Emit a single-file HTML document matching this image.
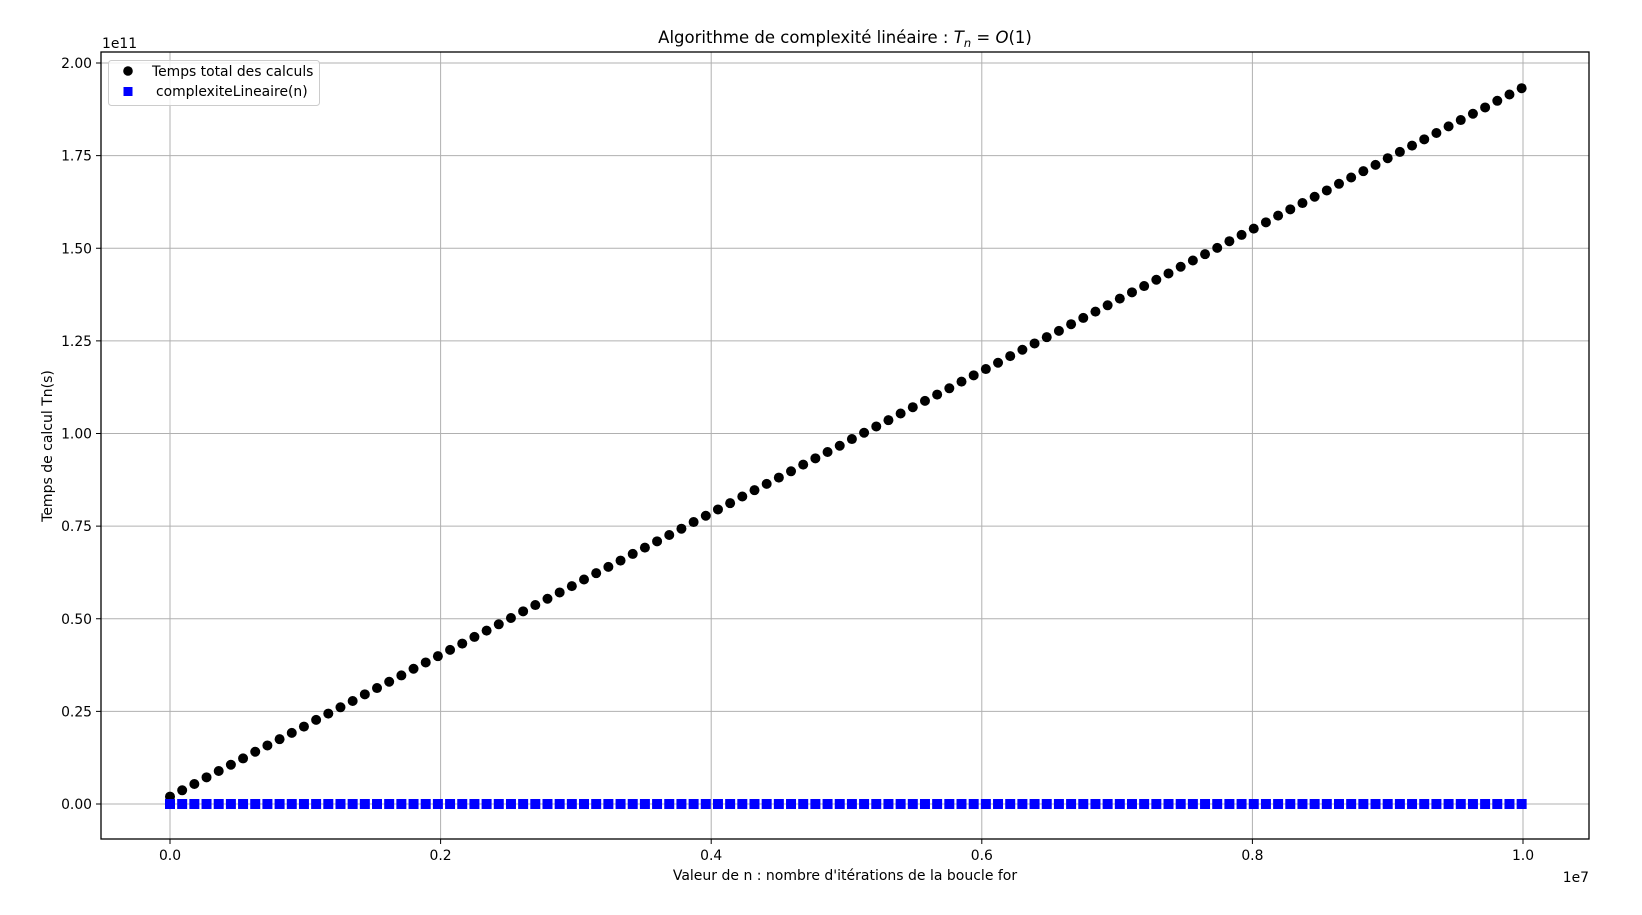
<!DOCTYPE html>
<html><head><meta charset="utf-8"><style>
body{margin:0;background:#fff;}
svg text{font-family:"DejaVu Sans","Liberation Sans",sans-serif;fill:#000;}
</style></head><body>
<svg id="chart" width="1642" height="910" xmlns="http://www.w3.org/2000/svg">
<rect width="1642" height="910" fill="#fff"/>
<g id="grid"></g>
<g id="marks"></g>
<rect x="101" y="52" width="1488" height="787" fill="none" stroke="#000" stroke-width="1.3"/>
<g id="ticks"></g>
<text x="845" y="43" font-size="16.5" text-anchor="middle">Algorithme de complexité linéaire : <tspan font-style="italic">T</tspan><tspan font-style="italic" font-size="11.5" dy="4">n</tspan><tspan dy="-4"> = </tspan><tspan font-style="italic">O</tspan>(1)</text>
<text x="845" y="880" font-size="14" text-anchor="middle">Valeur de n : nombre d'itérations de la boucle for</text>
<text x="0" y="0" font-size="14" text-anchor="middle" transform="translate(52,446) rotate(-90)">Temps de calcul Tn(s)</text>
<text x="1589" y="882" font-size="13.9" text-anchor="end">1e7</text>
<text x="102" y="48" font-size="13.9">1e11</text>
<g>
<rect x="108.5" y="60.5" width="211" height="45" rx="3" fill="#fff" fill-opacity="0.8" stroke="#ccc"/>
<circle cx="128" cy="71" r="4.8" fill="#000"/>
<text x="152" y="76" font-size="13.9">Temps total des calculs</text>
<rect x="123.5" y="87" width="9" height="9" fill="#00f"/>
<text x="156" y="96" font-size="13.9">complexiteLineaire(n)</text>
</g>
</svg>
<script>
// n values in units of 1e4
const nValues = [0,9,18,27,36,45,54,63,72,81,90,99,108,117,126,135,144,153,162,171,180,189,198,207,216,225,234,243,252,261,270,279,288,297,306,315,324,333,342,351,360,369,378,387,396,405,414,423,432,441,450,459,468,477,486,495,504,513,522,531,540,549,558,567,576,585,594,603,612,621,630,639,648,657,666,675,684,693,702,711,720,729,738,747,756,765,774,783,792,801,810,819,828,837,846,855,864,873,882,891,900,909,918,927,936,945,954,963,972,981,990,999];
// total time in units of 1e11
const tempsTotal = [0.020,0.037,0.054,0.072,0.089,0.106,0.123,0.141,0.158,0.175,0.192,0.209,0.227,0.244,0.261,0.278,0.296,0.313,0.330,0.347,0.365,0.382,0.399,0.416,0.433,0.451,0.468,0.485,0.502,0.520,0.537,0.554,0.571,0.588,0.606,0.623,0.640,0.657,0.675,0.692,0.709,0.726,0.743,0.761,0.778,0.795,0.812,0.830,0.847,0.864,0.881,0.898,0.916,0.933,0.950,0.967,0.985,1.002,1.019,1.036,1.054,1.071,1.088,1.105,1.122,1.140,1.157,1.174,1.191,1.209,1.226,1.243,1.260,1.277,1.295,1.312,1.329,1.346,1.364,1.381,1.398,1.415,1.432,1.450,1.467,1.484,1.501,1.519,1.536,1.553,1.570,1.588,1.605,1.622,1.639,1.656,1.674,1.691,1.708,1.725,1.743,1.760,1.777,1.794,1.811,1.829,1.846,1.863,1.880,1.898,1.915,1.932];
const complexite = [0,0,0,0,0,0,0,0,0,0,0,0,0,0,0,0,0,0,0,0,0,0,0,0,0,0,0,0,0,0,0,0,0,0,0,0,0,0,0,0,0,0,0,0,0,0,0,0,0,0,0,0,0,0,0,0,0,0,0,0,0,0,0,0,0,0,0,0,0,0,0,0,0,0,0,0,0,0,0,0,0,0,0,0,0,0,0,0,0,0,0,0,0,0,0,0,0,0,0,0,0,0,0,0,0,0,0,0,0,0,0,0];
const xTicks = [0,0.2,0.4,0.6,0.8,1.0];
const xTickLabels = ["0.0","0.2","0.4","0.6","0.8","1.0"];
const yTicks = [0,0.25,0.5,0.75,1.0,1.25,1.5,1.75,2.0];
const yTickLabels = ["0.00","0.25","0.50","0.75","1.00","1.25","1.50","1.75","2.00"];

const NS="http://www.w3.org/2000/svg";
function xScale(v){return 170+(v/1.0)*(1523-170);}        // v in 1e7
function yScale(v){return 804-(v/2.0)*(804-63);}           // v in 1e11
function mk(tag,attrs,parent){const e=document.createElementNS(NS,tag);for(const k in attrs)e.setAttribute(k,attrs[k]);parent.appendChild(e);return e;}
const grid=document.getElementById('grid'),ticks=document.getElementById('ticks'),marks=document.getElementById('marks');
xTicks.forEach((t,i)=>{
  const x=xScale(t);
  const g=mk('line',{x1:x,x2:x,y1:52,y2:839,stroke:'#b0b0b0','stroke-width':1},grid);
  
  
  const tk=mk('line',{x1:x,x2:x,y1:839,y2:844,stroke:'#000','stroke-width':1},ticks);
  
  
  const l=mk('text',{x:x,y:860,'font-size':13.9,'text-anchor':'middle'},ticks);
  l.textContent=xTickLabels[i];
  
  
});
yTicks.forEach((t,i)=>{
  const y=yScale(t);
  const g=mk('line',{x1:101,x2:1589,y1:y,y2:y,stroke:'#b0b0b0','stroke-width':1},grid);
  
  
  const tk=mk('line',{x1:96,x2:101,y1:y,y2:y,stroke:'#000','stroke-width':1},ticks);
  
  
  const l=mk('text',{x:92,y:y+5,'font-size':13.9,'text-anchor':'end'},ticks);
  l.textContent=yTickLabels[i];
  
  
});
nValues.forEach((n,i)=>{
  const x=xScale(n/1000);
  const c=mk('circle',{cx:x,cy:yScale(tempsTotal[i]),r:5,fill:'#000'},marks);
  
  
  const s=mk('rect',{x:x-5,y:yScale(complexite[i])-5,width:10,height:10,fill:'#00f'},marks);
  
  
});
</script>
</body></html>
